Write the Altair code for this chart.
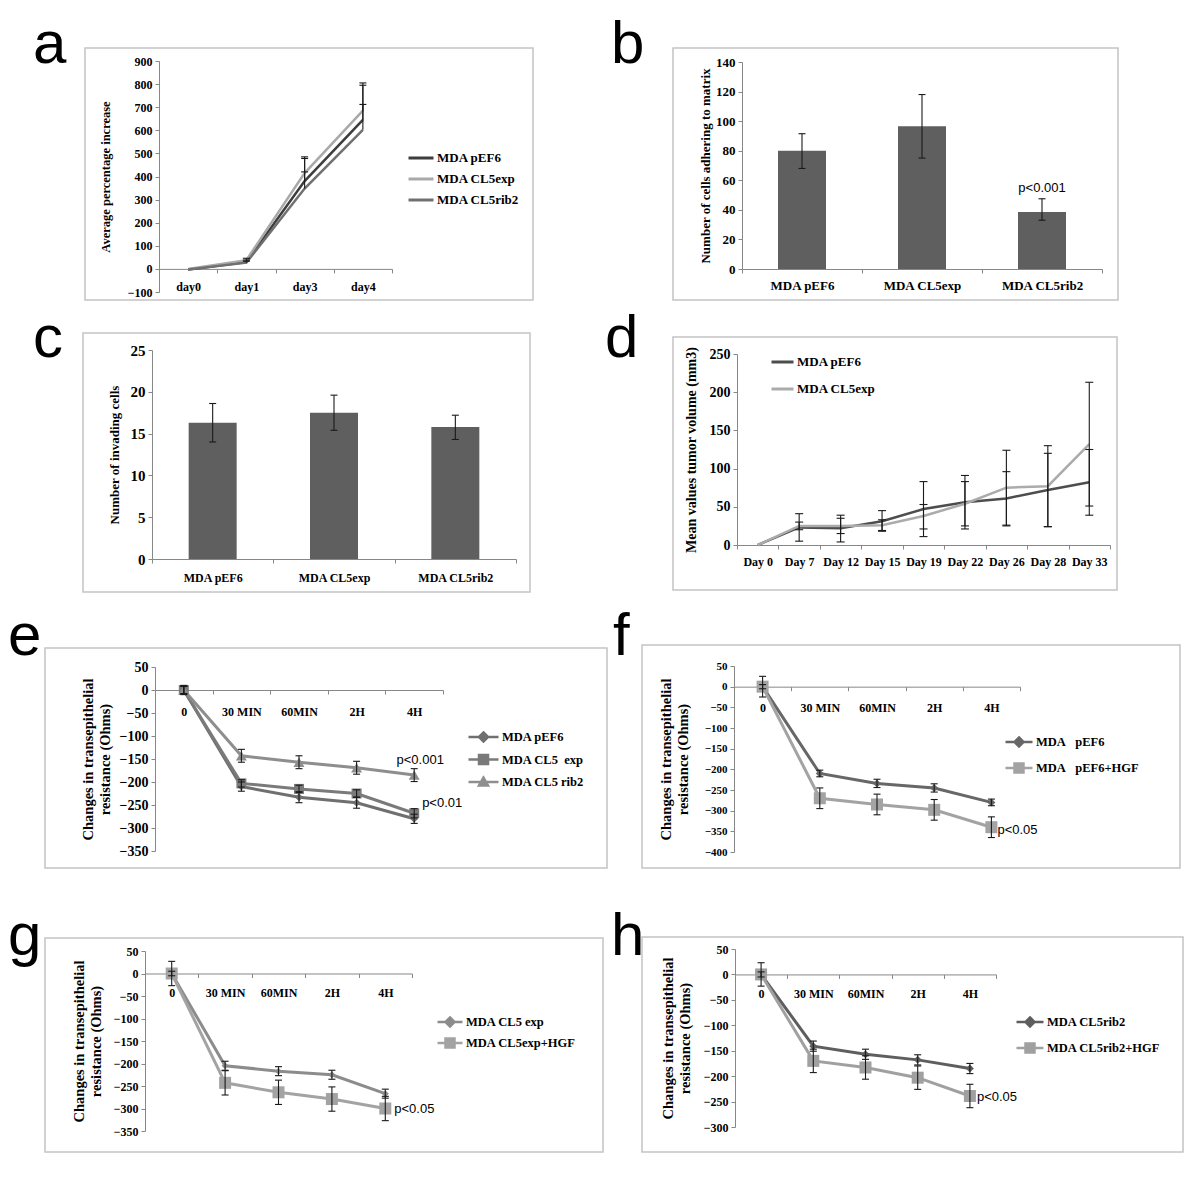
import altair as alt
import pandas as pd

# ======================= values =======================
# (a) proliferation (plus-only error bars)
a_days = ["day0", "day1", "day3", "day4"]
a_names = ["MDA pEF6", "MDA CL5exp", "MDA CL5rib2"]
a_pef6 = [-3, 30, 380, 645]
a_pef6_up = [-3, 38, 478, 795]
a_cl5exp = [0, 38, 415, 685]
a_cl5exp_up = [0, 46, 485, 805]
a_rib2 = [-3, 27, 348, 602]
a_rib2_up = [-3, 33, 420, 712]

# (b) adhesion, (c) invasion
bc_groups = ["MDA pEF6", "MDA CL5exp", "MDA CL5rib2"]
b_mean = [80, 96.5, 38.5]
b_low = [68, 75, 33]
b_high = [91.5, 118, 47.5]
b_note = ["", "", "p<0.001"]
c_mean = [16.3, 17.5, 15.8]
c_low = [14.0, 15.4, 14.3]
c_high = [18.6, 19.6, 17.2]

# (d) tumour volume
d_days = ["Day 0", "Day 7", "Day 12", "Day 15", "Day 19", "Day 22", "Day 26", "Day 28", "Day 33"]
d_names = ["MDA pEF6", "MDA CL5exp"]
d_pef6 = [0, 23, 22, 31, 47, 56, 61, 72, 82]
d_pef6_low = [0, 5, 4, 18, 11, 21, 26, 24, 39]
d_pef6_high = [0, 41, 39, 45, 83, 91, 96, 120, 125]
d_cl5 = [0, 25, 25, 26, 38, 54, 75, 77, 132]
d_cl5_low = [0, 20, 15, 19, 21, 25, 25, 24, 51]
d_cl5_high = [0, 30, 35, 33, 53, 83, 124, 130, 213]

# (e)-(h) transepithelial resistance
tp = ["0", "30 MIN", "60MIN", "2H", "4H"]
e_names = ["MDA pEF6", "MDA CL5\u00a0\u00a0exp", "MDA CL5 rib2"]
e_pef6 = [0, -210, -233, -245, -280]
e_pef6_err = [8, 10, 12, 12, 10]
e_cl5exp = [0, -203, -215, -225, -268]
e_cl5exp_err = [8, 8, 8, 8, 10]
e_rib2 = [0, -143, -157, -169, -185]
e_rib2_err = [10, 14, 14, 14, 14]
e_notes = ["", "p<0.01", "p<0.001"]

f_names = ["MDA\u00a0\u00a0\u00a0pEF6", "MDA\u00a0\u00a0\u00a0pEF6+HGF"]
f_pef6 = [0, -210, -234, -245, -280]
f_pef6_err = [5, 8, 10, 10, 8]
f_hgf = [0, -270, -285, -298, -340]
f_hgf_err = [25, 25, 25, 25, 25]
f_notes = ["", "p<0.05"]

g_names = ["MDA CL5 exp", "MDA CL5exp+HGF"]
g_cl5 = [0, -205, -217, -225, -267]
g_cl5_err = [5, 10, 10, 10, 10]
g_hgf = [0, -243, -264, -279, -300]
g_hgf_err = [27, 27, 27, 27, 27]
g_notes = ["", "p<0.05"]

h_names = ["MDA CL5rib2", "MDA CL5rib2+HGF"]
h_rib2 = [0, -141, -157, -168, -185]
h_rib2_err = [5, 10, 10, 10, 10]
h_hgf = [0, -170, -183, -203, -239]
h_hgf_err = [23, 23, 23, 23, 23]
h_notes = ["", "p<0.05"]

# ======================= layout / style =======================
W, H = 1184, 1166
SERIF = "Liberation Serif"
SANS = "Liberation Sans"
AXIS_GREY = "#878787"
FRAME_GREY = "#c4c4c4"
ERR_COL = "#1a1a1a"
BAR_COL = "#5f5f5f"
CAP = "M-1,0H1"
ONE = pd.DataFrame({"k": [0]})


def px(v):  # picture pixel -> canvas pixel (page margin 8px)
    return v - 8


def zero_at(dom, yb, yt):
    return yb + (yt - yb) * (0 - dom[0]) / (dom[1] - dom[0])


def series_df(cats, names, means, lows, highs, notes=None):
    rows = []
    for k, (n, m, lo, hi) in enumerate(zip(names, means, lows, highs)):
        for i, c in enumerate(cats):
            rows.append(dict(cat=c, idx=i, series=n, val=m[i], lo=lo[i], hi=hi[i],
                             note=(notes[k] if (notes and i == len(cats) - 1) else "")))
    return pd.DataFrame(rows)


def band_x(cats, x0, x1, axis_y, pad, size):
    return alt.X("cat:N", sort=cats,
                 scale=alt.Scale(type="band", domain=cats, range=[px(x0), px(x1)],
                                 paddingInner=0, paddingOuter=0),
                 axis=alt.Axis(orient="bottom", offset=px(axis_y) - H, title=None, labelAngle=0,
                               tickBand="extent", grid=False, domainColor=AXIS_GREY,
                               tickColor=AXIS_GREY, tickSize=4, labelPadding=pad,
                               labelFont=SERIF, labelFontWeight="bold", labelFontSize=size,
                               labelColor="black"))


def y_scale(dom, yb, yt):
    return alt.Scale(domain=list(dom), range=[px(yb), px(yt)], nice=False, zero=False)


def y_axis(xpos, vals, title, lsize, tsize, tpad):
    return alt.Axis(orient="left", offset=-px(xpos), values=vals, title=title, grid=False,
                    domainColor=AXIS_GREY, tickColor=AXIS_GREY, tickSize=4, labelPadding=3,
                    labelFont=SERIF, labelFontWeight="bold", labelFontSize=lsize,
                    labelColor="black", labelOverlap=False, titleFont=SERIF,
                    titleFontWeight="bold", titleFontSize=tsize, titleColor="black",
                    titlePadding=tpad)


def frame(x0, y0, x1, y1):
    return alt.Chart(ONE).mark_rect(fillOpacity=0, stroke=FRAME_GREY, strokeWidth=1.5).encode(
        x=alt.value(px(x0)), x2=alt.value(px(x1)), y=alt.value(px(y0)), y2=alt.value(px(y1)))


def letter(ch, x, y):
    return alt.Chart(ONE).mark_text(font=SANS, fontSize=60, align="left",
                                    baseline="alphabetic", color="black").encode(
        x=alt.value(px(x)), y=alt.value(px(y)), text=alt.value(ch))


def err_layers(df, x, ys, yax, lo_cap=True, cap=49):
    out = [alt.Chart(df).mark_rule(color=ERR_COL, strokeWidth=1.1).encode(
        x=x, y=alt.Y("lo:Q", scale=ys, axis=yax), y2="hi:Q"),
        alt.Chart(df).mark_point(shape=CAP, size=cap, filled=False, opacity=1,
                                 color=ERR_COL, strokeWidth=1.1).encode(
            x=x, y=alt.Y("hi:Q", scale=ys, axis=yax))]
    if lo_cap:
        out.append(alt.Chart(df).mark_point(shape=CAP, size=cap, filled=False, opacity=1,
                                            color=ERR_COL, strokeWidth=1.1).encode(
            x=x, y=alt.Y("lo:Q", scale=ys, axis=yax)))
    return out


def line_legend(x, y_first, half, clip, rowpad, fsize):
    return alt.Legend(title=None, orient="none", legendX=px(x), legendY=px(y_first) - clip / 2,
                      symbolType="stroke", symbolSize=(2 * half) ** 2, symbolStrokeWidth=3,
                      clipHeight=clip, rowPadding=rowpad, labelOffset=2, padding=0,
                      labelFont=SERIF, labelFontWeight="bold", labelFontSize=fsize,
                      labelColor="black")


# ---------------- panel a ----------------
dom_a = (-100, 900)
ys_a = y_scale(dom_a, 292, 61)
yax_a = y_axis(159, list(range(-100, 901, 100)), "Average percentage increase", 12, 12.5, 15)
x_a = band_x(a_days, 159, 392, zero_at(dom_a, 292, 61), 9, 12)
df_a = series_df(a_days, a_names, [a_pef6, a_cl5exp, a_rib2], [a_pef6, a_cl5exp, a_rib2],
                 [a_pef6_up, a_cl5exp_up, a_rib2_up])
panel_a = alt.layer(
    alt.Chart(df_a).mark_line(strokeWidth=2.5).encode(
        x=x_a,
        y=alt.Y("val:Q", scale=ys_a, axis=yax_a),
        color=alt.Color("series:N", scale=alt.Scale(domain=a_names,
                                                    range=["#3d3d3d", "#a9a9a9", "#707070"]),
                        legend=line_legend(407, 158, 12.5, 12, 8, 13)),
        order="idx:Q"),
    *err_layers(df_a[df_a.hi > df_a.val], x_a, ys_a, yax_a, lo_cap=False),
)


# ---------------- panels b, c ----------------
def bar_panel(means, lows, highs, notes, xr, yr, dom, yvals, title, lsize, tsize, tpad, xpad, xsize):
    ys = y_scale(dom, yr[0], yr[1])
    yax = y_axis(xr[0], yvals, title, lsize, tsize, tpad)
    x = band_x(bc_groups, xr[0], xr[1], zero_at(dom, yr[0], yr[1]), xpad, xsize)
    df = pd.DataFrame({"cat": bc_groups, "val": means, "lo": lows, "hi": highs,
                       "note": notes if notes else [""] * len(bc_groups)})
    layers = [alt.Chart(df).mark_bar(size=48, color=BAR_COL).encode(
        x=x, y=alt.Y("val:Q", scale=ys, axis=yax))]
    layers += err_layers(df, x, ys, yax)
    if notes:
        layers.append(alt.Chart(df[df.note != ""]).mark_text(
            font=SANS, fontSize=13, baseline="bottom", dy=-4, color="black").encode(
            x=x, y=alt.Y("hi:Q", scale=ys, axis=yax), text="note:N"))
    return alt.layer(*layers)


panel_b = bar_panel(b_mean, b_low, b_high, b_note, (742, 1102), (269, 62), (0, 140),
                    list(range(0, 141, 20)), "Number of cells adhering to matrix", 13, 13, 3, 6, 13)
panel_c = bar_panel(c_mean, c_low, c_high, None, (152, 516), (559, 350), (0, 25),
                    list(range(0, 26, 5)), "Number of invading cells", 15, 13, 9, 9, 12)

# ---------------- panel d ----------------
dom_d = (0, 250)
ys_d = y_scale(dom_d, 545, 354)
yax_d = y_axis(737, list(range(0, 251, 50)), "Mean values tumor volume (mm3)", 14, 14, 11)
x_d = band_x(d_days, 737, 1110, 545, 7, 12)
df_d = series_df(d_days, d_names, [d_pef6, d_cl5], [d_pef6_low, d_cl5_low],
                 [d_pef6_high, d_cl5_high])
panel_d = alt.layer(
    alt.Chart(df_d).mark_line(strokeWidth=2.5).encode(
        x=x_d,
        y=alt.Y("val:Q", scale=ys_d, axis=yax_d),
        color=alt.Color("series:N", scale=alt.Scale(domain=d_names, range=["#4d4d4d", "#ababab"]),
                        legend=line_legend(770, 362, 11, 14, 13, 13)),
        order="idx:Q"),
    *err_layers(df_d[df_d.hi > df_d.lo], x_d, ys_d, yax_d, cap=64),
)


# ---------------- panels e-h ----------------
def legend_path(kind, half, mk):
    u = round(mk / half, 3)
    if kind == "diamond":
        return CAP + f"M0,{-u}L{u},0L0,{u}L{-u},0Z"
    if kind == "square":
        return CAP + f"M{-u},{-u}H{u}V{u}H{-u}Z"
    return CAP + f"M0,{-u}L{u},{round(u * 0.8, 3)}H{-u}Z"


def ter_panel(names, means, errs, notes, colors, shapes, sizes, xr, yr, dom, ystep,
              xpad, lsize, tpad, leg, note_style):
    ys = y_scale(dom, yr[0], yr[1])
    yvals = list(range(dom[0], dom[1] + 1, ystep))
    yax = y_axis(xr[0], yvals, ["Changes in transepithelial", "resistance (Ohms)"],
                 lsize, 14.5, tpad)
    x = band_x(tp, xr[0], xr[1], zero_at(dom, yr[0], yr[1]), xpad, 12)
    lows = [[m - e for m, e in zip(ms, es)] for ms, es in zip(means, errs)]
    highs = [[m + e for m, e in zip(ms, es)] for ms, es in zip(means, errs)]
    df = series_df(tp, names, means, lows, highs, notes)
    layers = []
    for n, c in zip(names, colors):
        layers.append(alt.Chart(df[df.series == n]).mark_line(strokeWidth=3, color=c).encode(
            x=x, y=alt.Y("val:Q", scale=ys, axis=yax), order="idx:Q"))
    for n, c, s, z in zip(names, colors, shapes, sizes):
        layers.append(alt.Chart(df[df.series == n]).mark_point(
            shape=s, size=z, filled=True, opacity=1, color=c).encode(
            x=x, y=alt.Y("val:Q", scale=ys, axis=yax)))
    layers += err_layers(df, x, ys, yax)
    lx, ly, half, clip, rowpad = leg
    legend = alt.Legend(title=None, orient="none", legendX=px(lx), legendY=px(ly) - clip / 2,
                        symbolSize=(2 * half) ** 2, symbolStrokeWidth=2.5, symbolOpacity=1,
                        clipHeight=clip, rowPadding=rowpad, labelOffset=2, padding=0,
                        labelFont=SERIF, labelFontWeight="bold", labelFontSize=12.5,
                        labelColor="black")
    paths = [legend_path(s, half, 4.5) for s in shapes]
    # legend-only symbols, parked far outside the drawing area
    leg_df = pd.DataFrame({"cat": [tp[0]] * len(names), "val": [dom[1] + 50000] * len(names),
                           "series": names})
    layers.append(alt.Chart(leg_df).mark_point(filled=True, opacity=1, size=(2 * half) ** 2,
                                               strokeWidth=2.5).encode(
        x=x, y=alt.Y("val:Q", scale=ys, axis=yax),
        fill=alt.Fill("series:N", scale=alt.Scale(domain=names, range=colors), legend=legend),
        stroke=alt.Stroke("series:N", scale=alt.Scale(domain=names, range=colors), legend=legend),
        shape=alt.Shape("series:N", scale=alt.Scale(domain=names, range=paths), legend=legend)))
    for n, (align, dx, dy) in note_style.items():
        sub = df[(df.series == n) & (df.note != "")]
        layers.append(alt.Chart(sub).mark_text(font=SANS, fontSize=13, align=align,
                                               baseline="middle", dx=dx, dy=dy,
                                               color="black").encode(
            x=x, y=alt.Y("val:Q", scale=ys, axis=yax), text="note:N"))
    return alt.layer(*layers)


panel_e = ter_panel(e_names, [e_pef6, e_cl5exp, e_rib2], [e_pef6_err, e_cl5exp_err, e_rib2_err],
                    e_notes, ["#6f6f6f", "#7a7a7a", "#8e8e8e"], ["diamond", "square", "triangle-up"],
                    [64, 100, 121], (155, 443), (851, 667), (-350, 50), 50, 12, 14, 7,
                    (467, 737, 15, 13, 9.5),
                    {e_names[2]: ("center", 6, -15), e_names[1]: ("center", 28, -10)})
panel_f = ter_panel(f_names, [f_pef6, f_hgf], [f_pef6_err, f_hgf_err], f_notes,
                    ["#676767", "#a3a3a3"], ["diamond", "square"], [64, 144],
                    (734, 1020), (852, 666), (-400, 50), 50, 12, 11, 14,
                    (1004, 742, 13.5, 14, 12), {f_names[1]: ("left", 6, 3)})
panel_g = ter_panel(g_names, [g_cl5, g_hgf], [g_cl5_err, g_hgf_err], g_notes,
                    ["#8c8c8c", "#a3a3a3"], ["diamond", "square"], [49, 144],
                    (145, 412), (1131, 951), (-350, 50), 50, 10, 12, 10,
                    (436, 1022, 12.5, 13, 8), {g_names[1]: ("left", 9, 0)})
panel_h = ter_panel(h_names, [h_rib2, h_hgf], [h_rib2_err, h_hgf_err], h_notes,
                    ["#5e5e5e", "#a0a0a0"], ["diamond", "square"], [64, 144],
                    (735, 996), (1127, 949), (-300, 50), 50, 10, 12, 11,
                    (1015, 1022, 13.5, 14, 12), {h_names[1]: ("left", 7, 1)})

frames = [frame(85, 48, 533, 300), frame(673, 48, 1118, 300),
          frame(83, 333, 530, 592), frame(673, 337, 1117, 590),
          frame(45, 648, 607, 868), frame(642, 645, 1180, 868),
          frame(45, 938, 603, 1152), frame(642, 937, 1183, 1152)]
letters = [letter("a", 33, 63), letter("b", 611, 63), letter("c", 33, 357),
           letter("d", 605, 357), letter("e", 8, 655), letter("f", 613, 655),
           letter("g", 8, 955), letter("h", 611, 955)]

chart = alt.layer(
    *frames, *letters,
    panel_a, panel_b, panel_c, panel_d, panel_e, panel_f, panel_g, panel_h,
).resolve_scale(
    x="independent", y="independent", color="independent", fill="independent",
    stroke="independent", shape="independent",
).resolve_axis(x="independent", y="independent").resolve_legend(
    color="independent", fill="independent", stroke="independent", shape="independent",
).properties(
    width=W, height=H, padding=0, background="white",
    autosize=alt.AutoSizeParams(type="none"),
).configure_view(stroke=None)

chart.save("out.html", embed_options={"renderer": "svg", "actions": False})
